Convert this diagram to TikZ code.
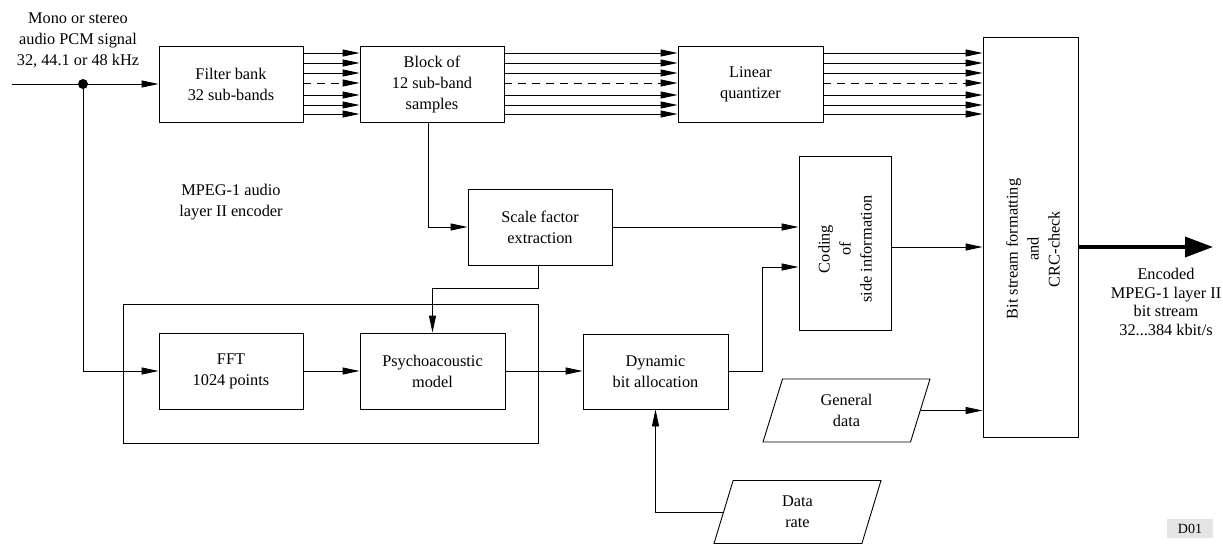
\documentclass[tikz,border=0pt]{standalone}
\usepackage{fontspec}
\setmainfont{Liberation Serif}
\usetikzlibrary{arrows.meta,shapes.geometric}
\begin{document}
\begin{tikzpicture}[x=1pt,y=-1pt,
  line width=0.9pt,
  txt/.style={align=center, inner sep=0pt, font=\fontsize{16.3}{21}\selectfont},
  box/.style={draw, txt},
  arr/.style={-{Triangle[length=17pt,width=7pt]}},
  plainline/.style={solid},
  gapline/.style={dash pattern=on 8pt off 6pt},
  slanted/.style={draw, txt, trapezium, trapezium left angle=59, trapezium right angle=121,
    trapezium stretches body, minimum width=167pt, minimum height=63pt}]
\useasboundingbox (0,0) rectangle (1223,545);

% input label and signal split
\node[txt] (intxt) at (78,40) {Mono or stereo\\audio PCM signal\\32, 44.1 or 48 kHz};
\coordinate (in) at (12,84);
\coordinate (j) at (83,84);

% main path
\node[box, minimum width=144pt, minimum height=76pt] (fb) at (231,84) {Filter bank\\32 sub-bands};
\node[box, minimum width=144pt, minimum height=76pt] (blk) at (432,84) {Block of\\12 sub-band\\samples};
\node[box, minimum width=145pt, minimum height=76pt] (lq) at (750.5,84) {Linear\\quantizer};
\node[box, minimum width=95pt, minimum height=400pt] (bs) at (1030.5,237) {};
\node[txt, rotate=90] (bstxt) at (1033,249) {Bit stream formatting\\and\\CRC-check};

% side information
\node[box, minimum width=144pt, minimum height=76pt] (sf) at (540,227) {Scale factor\\extraction};
\node[box, minimum width=92pt, minimum height=174pt] (cod) at (845,243) {};
\node[txt, rotate=90] (codtxt) at (845,249) {Coding\\of\\side information};

% psychoacoustic group
\node[draw, minimum width=415pt, minimum height=139pt, inner sep=0pt] (grp) at (330.5,373.5) {};
\node[box, minimum width=144pt, minimum height=76pt] (fft) at (231,371) {FFT\\1024 points};
\node[box, minimum width=145pt, minimum height=76pt] (psy) at (432.5,371) {Psychoacoustic\\model};
\node[box, minimum width=145pt, minimum height=75pt] (dyn) at (655.5,371.5) {Dynamic\\bit allocation};

\node[txt] (title) at (231,202) {MPEG-1 audio\\layer II encoder};

% external data
\node[slanted] (gen) at (846.5,410.5) {General\\data};
\node[slanted] (rate) at (797.5,512) {Data\\rate};

% output
\coordinate (outtip) at (1213,247);
\node[txt, font=\fontsize{16.3}{18.5}\selectfont] (outtxt) at (1166,302) {Encoded\\MPEG-1 layer II\\bit stream\\32...384 kbit/s};
\node[draw=none, fill=black!10, minimum width=46pt, minimum height=19pt, inner sep=0pt,
  font=\fontsize{14}{16}\selectfont] (tag) at (1190,528.5) {D01};

% connectors
\draw[arr] (in) -- (fb.west);
\fill (j) circle (5pt);
\draw[arr] (j) |- (fft.west);

\foreach \yy/\ss in {53/plainline,63/plainline,73/plainline,83/gapline,95/plainline,105/plainline,114/plainline}{
  \draw[arr,\ss] (fb.east |- 0,\yy) -- (blk.west |- 0,\yy);
  \draw[arr,\ss] (blk.east |- 0,\yy) -- (lq.west |- 0,\yy);
  \draw[arr,\ss] (lq.east |- 0,\yy) -- (bs.west |- 0,\yy);
}

\draw[arr] ([xshift=-4pt]blk.south) |- (sf.west);
\draw[arr] (sf.east) -- (sf.east -| cod.west);
\draw[arr] ([xshift=-2pt]sf.south) -- ++(0,23) -| (psy.north);
\draw[arr] (fft.east) -- (psy.west);
\draw[arr] (psy.east) -- (psy.east -| dyn.west);
\draw[arr] (dyn.east) -- ++(34,0) |- ([yshift=-24pt]cod.west);
\draw[arr] ([yshift=-4pt]cod.east) -- ([yshift=-4pt]cod.east -| bs.west);
\draw[arr] (gen.east) -- (gen.east -| bs.west);
\draw[arr] (rate.west) -| (dyn.south);
\draw[line width=3.5pt, -{Triangle[length=28pt,width=20pt]}] (bs.east |- outtip) -- (outtip);
\end{tikzpicture}
\end{document}
